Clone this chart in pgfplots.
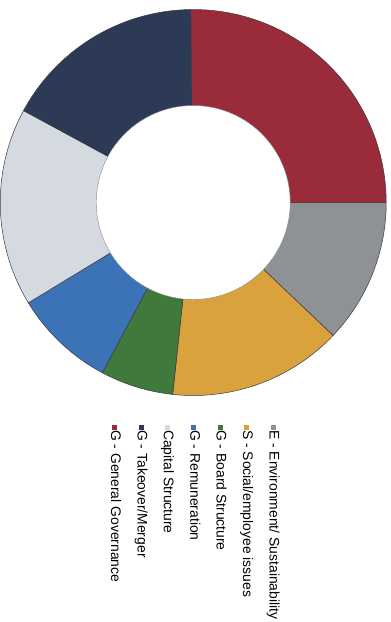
\documentclass[border=0pt]{standalone}
\usepackage{pgfplots}
\pgfplotsset{compat=1.18}
\usepackage{fontspec}
\setmainfont{Liberation Sans}
\definecolor{cE}{HTML}{8F9294}
\definecolor{cS}{HTML}{D9A23C}
\definecolor{cB}{HTML}{3F7A3C}
\definecolor{cR}{HTML}{3B73B6}
\definecolor{cC}{HTML}{D4DADF}
\definecolor{cT}{HTML}{2C3A56}
\definecolor{cG}{HTML}{992B3A}
\definecolor{edge}{HTML}{3A3A40}
% shares in percent, clockwise from 12 o'clock
\def\vE{12.1}\def\vS{14.6}\def\vB{6.1}\def\vR{8.5}\def\vC{16.6}\def\vT{16.9}\def\vG{25.2}
\newcommand\Rout{193}
\newcommand\Rin{97}
\begin{document}
\begin{tikzpicture}[rotate=-90, transform shape]
\begin{axis}[
  x=1pt, y=1pt,
  xmin=-202.5, xmax=419.5, ymin=-193, ymax=197,
  hide axis, clip=false,
  legend style={draw=none, fill=none,
    font=\fontsize{13.9}{16}\selectfont,
    at={(axis cs:222.5,86.5)}, anchor=north west,
    row sep=13.5pt, column sep=0pt, inner sep=0pt,
    nodes={inner sep=0pt, text height=10pt, text depth=2.9pt}},
  legend cell align=left,
  legend image code/.code={\path[#1,draw=none] (0pt,-2.5pt) rectangle (5pt,2.5pt);},
]
\path (rel axis cs:0,0) rectangle (rel axis cs:1,1);
\pgfmathsetmacro\aA{90}
\pgfmathsetmacro\aB{\aA-3.6*\vE}
\pgfmathsetmacro\aC{\aB-3.6*\vS}
\pgfmathsetmacro\aD{\aC-3.6*\vB}
\pgfmathsetmacro\aE{\aD-3.6*\vR}
\pgfmathsetmacro\aF{\aE-3.6*\vC}
\pgfmathsetmacro\aGg{\aF-3.6*\vT}
\pgfmathsetmacro\aH{\aGg-3.6*\vG}
\addplot[fill=cE, draw=edge, line width=0.5pt, domain=\aB:\aA, samples=40] ({\Rout*cos(x)},{\Rout*sin(x)}) -- (axis cs:0,0) -- cycle;
\addlegendentry{E - Environment/ Sustainability}
\addplot[fill=cS, draw=edge, line width=0.5pt, domain=\aC:\aB, samples=40] ({\Rout*cos(x)},{\Rout*sin(x)}) -- (axis cs:0,0) -- cycle;
\addlegendentry{S - Social/employee issues}
\addplot[fill=cB, draw=edge, line width=0.5pt, domain=\aD:\aC, samples=40] ({\Rout*cos(x)},{\Rout*sin(x)}) -- (axis cs:0,0) -- cycle;
\addlegendentry{G - Board Structure}
\addplot[fill=cR, draw=edge, line width=0.5pt, domain=\aE:\aD, samples=40] ({\Rout*cos(x)},{\Rout*sin(x)}) -- (axis cs:0,0) -- cycle;
\addlegendentry{G - Remuneration}
\addplot[fill=cC, draw=edge, line width=0.5pt, domain=\aF:\aE, samples=40] ({\Rout*cos(x)},{\Rout*sin(x)}) -- (axis cs:0,0) -- cycle;
\addlegendentry{Capital Structure}
\addplot[fill=cT, draw=edge, line width=0.5pt, domain=\aGg:\aF, samples=40] ({\Rout*cos(x)},{\Rout*sin(x)}) -- (axis cs:0,0) -- cycle;
\addlegendentry{G - Takeover/Merger}
\addplot[fill=cG, draw=edge, line width=0.5pt, domain=\aH:\aGg, samples=40] ({\Rout*cos(x)},{\Rout*sin(x)}) -- (axis cs:0,0) -- cycle;
\addlegendentry{G - General Governance}
\addplot[forget plot, fill=white, draw=edge!60, line width=0.4pt, domain=0:360, samples=120] ({\Rin*cos(x)},{\Rin*sin(x)}) -- cycle;
\end{axis}
\end{tikzpicture}
\end{document}
